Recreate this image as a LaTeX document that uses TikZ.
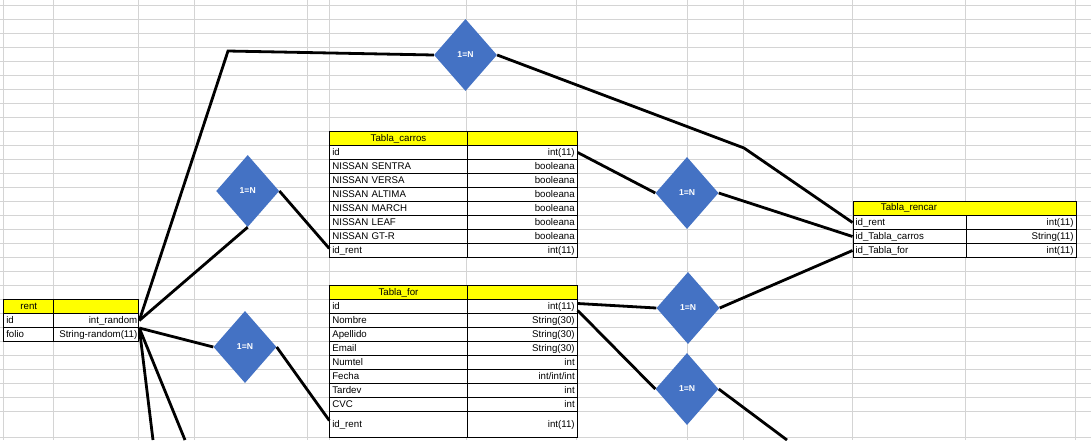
\documentclass[tikz,border=0pt]{standalone}
\usepackage{fontspec}
\setmainfont{Liberation Sans}
\usetikzlibrary{shapes.geometric}
\definecolor{gridgray}{HTML}{D4D4D4}
\definecolor{relblue}{HTML}{4472C4}
\definecolor{headyellow}{HTML}{FFFF00}
\newcommand{\tabfont}{\fontsize{9.7}{11}\selectfont}

\begin{document}
\begin{tikzpicture}[x=1pt, y=-1pt,
    gridline/.style={draw=gridgray, line width=0.8pt},
    headcell/.style={draw, line width=1pt, fill=headyellow, anchor=north west, minimum height=14pt, inner xsep=0pt, inner ysep=0pt, text width=#1, align=center, font=\tabfont},
    fieldcell/.style={draw, line width=1pt, fill=white, anchor=north west, minimum height=14pt, inner xsep=2.5pt, inner ysep=0pt, text width=#1, align=left, font=\tabfont},
    typecell/.style={fieldcell=#1, align=right},
    rel/.style={diamond, fill=relblue, minimum width=63pt, minimum height=72pt, inner sep=0pt, text=white, font=\fontsize{8.6}{9}\selectfont\bfseries},
    link/.style={line width=2.8pt}]
    \clip (0,0) rectangle (1091,440);
    \fill[white] (0,0) rectangle (1091,440);
    \foreach \gx in {3.3,53.3,138.3,194.3,307.5,329.3,466.7,576.7,687.7,743.3,852.5,965.7,1075.7}
      \draw[gridline] (\gx,0) -- (\gx,440);
    \foreach \gy in {5,19,...,411}
      \draw[gridline] (0,\gy) -- (1091,\gy);
    \draw[gridline] (0,437) -- (1091,437);

    \node[headcell=50pt] (rent-h) at (3.3,299) {rent};
    \node[headcell=85pt] (rent-hb) at (53.3,299) {};
    \node[fieldcell=45pt] (rent-1n) at (3.3,313) {id};
    \node[typecell=82pt, inner xsep=1.5pt] (rent-1) at (53.3,313) {int\_random};
    \node[fieldcell=45pt] (rent-2n) at (3.3,327) {folio};
    \node[typecell=82pt, inner xsep=1.5pt] (rent-2) at (53.3,327) {String-random(11)};

    \node[headcell=137.4pt] (carros-h) at (329.3,131) {Tabla\_carros};
    \node[headcell=110pt] (carros-hb) at (466.7,131) {};
    \node[fieldcell=132.4pt] (carros-1n) at (329.3,145) {id};
    \node[typecell=105pt] (carros-1) at (466.7,145) {int(11)};
    \node[fieldcell=132.4pt] (carros-2n) at (329.3,159) {NISSAN SENTRA};
    \node[typecell=105pt] (carros-2) at (466.7,159) {booleana};
    \node[fieldcell=132.4pt] (carros-3n) at (329.3,173) {NISSAN VERSA};
    \node[typecell=105pt] (carros-3) at (466.7,173) {booleana};
    \node[fieldcell=132.4pt] (carros-4n) at (329.3,187) {NISSAN ALTIMA};
    \node[typecell=105pt] (carros-4) at (466.7,187) {booleana};
    \node[fieldcell=132.4pt] (carros-5n) at (329.3,201) {NISSAN MARCH};
    \node[typecell=105pt] (carros-5) at (466.7,201) {booleana};
    \node[fieldcell=132.4pt] (carros-6n) at (329.3,215) {NISSAN LEAF};
    \node[typecell=105pt] (carros-6) at (466.7,215) {booleana};
    \node[fieldcell=132.4pt] (carros-7n) at (329.3,229) {NISSAN GT-R};
    \node[typecell=105pt] (carros-7) at (466.7,229) {booleana};
    \node[fieldcell=132.4pt] (carros-8) at (329.3,243) {id\_rent};
    \node[typecell=105pt] (carros-8t) at (466.7,243) {int(11)};

    \node[headcell=137.4pt] (for-h) at (329.3,285) {Tabla\_for};
    \node[headcell=110pt] (for-hb) at (466.7,285) {};
    \node[fieldcell=132.4pt] (for-1n) at (329.3,299) {id};
    \node[typecell=105pt] (for-1) at (466.7,299) {int(11)};
    \node[fieldcell=132.4pt] (for-2n) at (329.3,313) {Nombre};
    \node[typecell=105pt] (for-2) at (466.7,313) {String(30)};
    \node[fieldcell=132.4pt] (for-3n) at (329.3,327) {Apellido};
    \node[typecell=105pt] (for-3) at (466.7,327) {String(30)};
    \node[fieldcell=132.4pt] (for-4n) at (329.3,341) {Email};
    \node[typecell=105pt] (for-4) at (466.7,341) {String(30)};
    \node[fieldcell=132.4pt] (for-5n) at (329.3,355) {Numtel};
    \node[typecell=105pt] (for-5) at (466.7,355) {int};
    \node[fieldcell=132.4pt] (for-6n) at (329.3,369) {Fecha};
    \node[typecell=105pt] (for-6) at (466.7,369) {int/int/int};
    \node[fieldcell=132.4pt] (for-7n) at (329.3,383) {Tardev};
    \node[typecell=105pt] (for-7) at (466.7,383) {int};
    \node[fieldcell=132.4pt] (for-8n) at (329.3,397) {CVC};
    \node[typecell=105pt] (for-8) at (466.7,397) {int};
    \node[fieldcell=132.4pt, minimum height=26pt] (for-9) at (329.3,411) {id\_rent};
    \node[typecell=105pt, minimum height=26pt] (for-9t) at (466.7,411) {int(11)};

    \node[headcell=223pt] (rencar-h) at (852.5,201) {};
    \node[font=\tabfont] (rencar-title) at (909,208) {Tabla\_rencar};
    \node[fieldcell=108.2pt] (rencar-1) at (852.5,215) {id\_rent};
    \node[typecell=104.8pt] (rencar-1t) at (965.7,215) {int(11)};
    \node[fieldcell=108.2pt] (rencar-2) at (852.5,229) {id\_Tabla\_carros};
    \node[typecell=104.8pt] (rencar-2t) at (965.7,229) {String(11)};
    \node[fieldcell=108.2pt] (rencar-3) at (852.5,243) {id\_Tabla\_for};
    \node[typecell=104.8pt] (rencar-3t) at (965.7,243) {int(11)};

    \node[rel] (r1) at (465.5,55) {1=N};
    \node[rel] (r2) at (247.7,191) {1=N};
    \node[rel] (r3) at (245,347) {1=N};
    \node[rel] (r4) at (687,193) {1=N};
    \node[rel] (r5) at (688,308) {1=N};
    \node[rel] (r6) at (687,389) {1=N};

    \coordinate (bendtop) at (228,51);
    \coordinate (bendright) at (744,148);
    \coordinate (offa) at (153,440);
    \coordinate (offb) at (185,440);
    \coordinate (offc) at (787,440);

    \draw[link] (rent-1.east) -- (bendtop) -- (r1.west);
    \draw[link] (rent-1.east) -- (r2.south);
    \draw[link] (rent-1.south east) -- (r3.west);
    \draw[link] (rent-1.south east) -- (offa);
    \draw[link] (rent-1.south east) -- (offb);
    \draw[link] (r2.east) -- ([yshift=2pt]carros-8.west);
    \draw[link] (r3.east) -- ([yshift=4pt]for-9.west);
    \draw[link] (r1.east) -- (bendright) -- (rencar-1.west);
    \draw[link] (carros-1.east) -- (r4.west);
    \draw[link] (r4.east) -- (rencar-2.west);
    \draw[link] ([yshift=3pt]for-1.east) -- (r5.west);
    \draw[link] (r5.east) -- (rencar-3.west);
    \draw[link] ([yshift=-4pt]for-1.east) -- (r6.west);
    \draw[link] (r6.east) -- (offc);
  \end{tikzpicture}
\end{document}
